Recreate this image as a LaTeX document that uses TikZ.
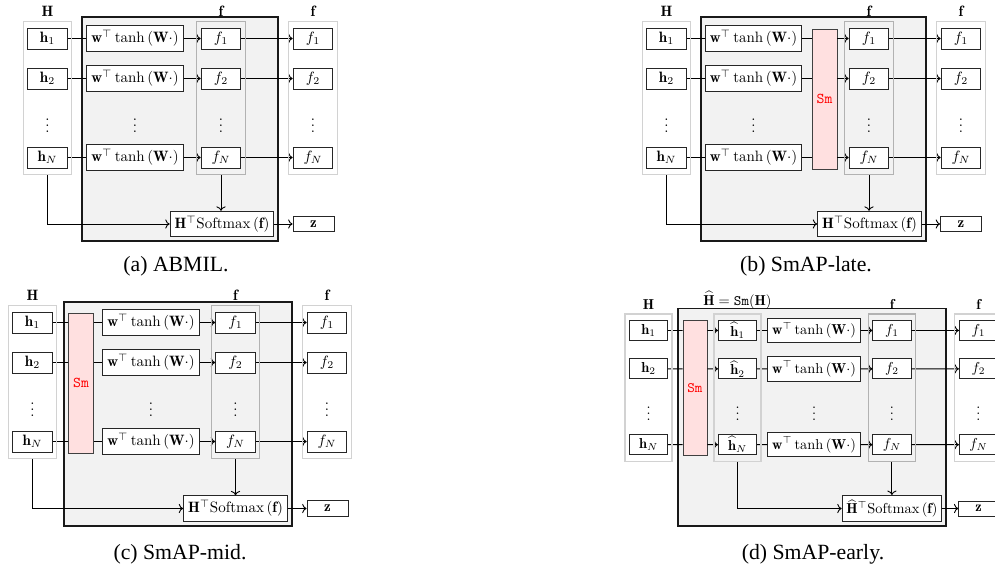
\documentclass[tikz,border=0pt]{standalone}
\usepackage{fontspec}
\usepackage{amsmath}
\usetikzlibrary{arrows.meta,fit}
\newfontfamily\capfont{Liberation Serif}

\tikzset{
  blk/.style={draw=black!85,fill=white,line width=0.6pt,inner sep=1pt,minimum height=14pt},
  hbox/.style={blk,minimum width=26.5pt},
  wbox/.style={blk,inner sep=3pt,minimum height=16.5pt},
  sbox/.style={blk,inner sep=3pt,minimum height=17pt},
  zbox/.style={blk,minimum width=27.3pt,minimum height=10.5pt},
  smbox/.style={draw=black!75,fill=red!12,line width=0.6pt,minimum width=16.7pt,
    minimum height=93.3pt,inner sep=0pt,text=red,font=\ttfamily},
  lgrp/.style={draw=gray!35,line width=0.8pt,inner xsep=2.7pt,inner ysep=4pt},
  dgrp/.style={draw=gray!60,line width=0.8pt,inner xsep=2.7pt,inner ysep=4pt},
  mainbg/.style={draw=black!90,fill=gray!10,line width=0.7pt},
  lbl/.style={anchor=base,inner sep=0pt},
  dots/.style={inner sep=0pt},
  subcap/.style={anchor=base,font=\capfont\fontsize{14.5}{17}\selectfont,inner sep=0pt}
}
\newcommand{\wtanh}{$\mathbf{w}^{\top}\tanh\left(\mathbf{W}\cdot\right)$}

\begin{document}
\begin{tikzpicture}[x=0.6667pt,y=-0.6667pt,line width=0.6pt,>=To]
\useasboundingbox (0,0) rectangle (995,571);
% ---- (a) ABMIL ----
\begin{scope}[shift={(0,0)}]
  \filldraw[mainbg] (82,17) rectangle (278,241);
  \foreach \i/\y in {1/38.5,2/78.5,N/157.5}{
    \node[hbox] (ah\i) at (47.5,\y) {$\mathbf{h}_{\i}$};
    \node[wbox] (aw\i) at (135,\y) {\wtanh};
    \node[hbox] (af\i) at (221,\y) {$f_{\i}$};
    \node[hbox] (ag\i) at (313,\y) {$f_{\i}$};
    \draw (ah\i) -- (aw\i);
    \draw[->] (aw\i) -- (af\i);
    \draw[->] (af\i) -- (ag\i);
  }
  \foreach \x/\n in {47.5/h,135/w,221/f,313/g}
    \node[dots] (ad\n) at (\x,121) {$\vdots$};
  \node[lgrp,fit=(ah1)(ahN)] (aH) {};
  \node[dgrp,fit=(af1)(afN)] (aF) {};
  \node[lgrp,fit=(ag1)(agN)] (aG) {};
  \node[lbl] (aHl) at (47.5,17) {$\mathbf{H}$};
  \node[lbl] (aFl) at (221,17) {$\mathbf{f}$};
  \node[lbl] (aGl) at (313,17) {$\mathbf{f}$};
  \node[sbox] (as) at (222,224) {$\mathbf{H}^{\top}\mathrm{Softmax}\left(\mathbf{f}\right)$};
  \node[zbox] (az) at (313.5,224) {$\mathbf{z}$};
  \draw[->] (aF.south) -- (aF.south |- as.north);
  \draw[->] (aH.south) |- (as.west);
  \draw[->] (as) -- (az);
\end{scope}
% ---- (b) SmAP-late ----
\begin{scope}[shift={(619,0)}]
  \filldraw[mainbg] (82,17) rectangle (307,241);
  \node[smbox] (bsm) at (205.5,99) {Sm};
  \foreach \i/\y in {1/38.5,2/78.5,N/157.5}{
    \node[hbox] (bh\i) at (47.5,\y) {$\mathbf{h}_{\i}$};
    \node[wbox] (bw\i) at (134.5,\y) {\wtanh};
    \node[hbox] (bf\i) at (250,\y) {$f_{\i}$};
    \node[hbox] (bg\i) at (342,\y) {$f_{\i}$};
    \draw (bh\i) -- (bw\i);
    \draw (bw\i) -- (bw\i -| bsm.west);
    \draw[->] (bsm.east |- bf\i) -- (bf\i);
    \draw[->] (bf\i) -- (bg\i);
  }
  \foreach \x/\n in {47.5/h,134.5/w,250/f,342/g}
    \node[dots] (bd\n) at (\x,121) {$\vdots$};
  \node[lgrp,fit=(bh1)(bhN)] (bH) {};
  \node[dgrp,fit=(bf1)(bfN)] (bF) {};
  \node[lgrp,fit=(bg1)(bgN)] (bG) {};
  \node[lbl] (bHl) at (47.5,17) {$\mathbf{H}$};
  \node[lbl] (bFl) at (250,17) {$\mathbf{f}$};
  \node[lbl] (bGl) at (342,17) {$\mathbf{f}$};
  \node[sbox] (bs) at (250.5,224) {$\mathbf{H}^{\top}\mathrm{Softmax}\left(\mathbf{f}\right)$};
  \node[zbox] (bz) at (342,224) {$\mathbf{z}$};
  \draw[->] (bF.south) -- (bF.south |- bs.north);
  \draw[->] (bH.south) |- (bs.west);
  \draw[->] (bs) -- (bz);
\end{scope}
% ---- (c) SmAP-mid ----
\begin{scope}[shift={(-15,284)}]
  \filldraw[mainbg] (79,18) rectangle (307,242);
  \node[smbox] (csm) at (96,99) {Sm};
  \foreach \i/\y in {1/38.5,2/78.5,N/157.5}{
    \node[hbox] (ch\i) at (47.5,\y) {$\mathbf{h}_{\i}$};
    \node[wbox] (cw\i) at (166,\y) {\wtanh};
    \node[hbox] (cf\i) at (250.5,\y) {$f_{\i}$};
    \node[hbox] (cg\i) at (342,\y) {$f_{\i}$};
    \draw (ch\i) -- (ch\i -| csm.west);
    \draw (csm.east |- cw\i) -- (cw\i);
    \draw[->] (cw\i) -- (cf\i);
    \draw[->] (cf\i) -- (cg\i);
  }
  \foreach \x/\n in {47.5/h,166/w,250.5/f,342/g}
    \node[dots] (cd\n) at (\x,121) {$\vdots$};
  \node[lgrp,fit=(ch1)(chN)] (cH) {};
  \node[dgrp,fit=(cf1)(cfN)] (cF) {};
  \node[lgrp,fit=(cg1)(cgN)] (cG) {};
  \node[lbl] (cHl) at (47.5,17) {$\mathbf{H}$};
  \node[lbl] (cFl) at (250.5,17) {$\mathbf{f}$};
  \node[lbl] (cGl) at (342,17) {$\mathbf{f}$};
  \node[sbox] (cs) at (250.5,224.5) {$\mathbf{H}^{\top}\mathrm{Softmax}\left(\mathbf{f}\right)$};
  \node[zbox] (cz) at (342.5,224.5) {$\mathbf{z}$};
  \draw[->] (cF.south) -- (cF.south |- cs.north);
  \draw[->] (cH.south) |- (cs.west);
  \draw[->] (cs) -- (cz);
\end{scope}
% ---- (d) SmAP-early, a bit smaller ----
\begin{scope}[shift={(602.9,293.5)},scale=0.96,transform shape]
  \filldraw[mainbg] (78.2,16.1) rectangle (357.4,242.2);
  \node[smbox] (dsm) at (95.9,98.4) {Sm};
  \foreach \i/\y in {1/38.5,2/78.5,N/157.5}{
    \node[hbox] (dh\i) at (47.5,\y) {$\mathbf{h}_{\i}$};
    \node[hbox] (dk\i) at (140.2,\y) {$\widehat{\mathbf{h}}_{\i}$};
    \node[wbox] (dw\i) at (219.9,\y) {\wtanh};
    \node[hbox] (df\i) at (301.1,\y) {$f_{\i}$};
    \node[hbox] (dg\i) at (391.2,\y) {$f_{\i}$};
    \draw (dh\i) -- (dh\i -| dsm.west);
    \draw[->] (dsm.east |- dk\i) -- (dk\i);
    \draw (dk\i) -- (dw\i);
    \draw[->] (dw\i) -- (df\i);
    \draw[->] (df\i) -- (dg\i);
  }
  \foreach \x/\n in {47.5/h,140.2/k,219.9/w,301.1/f,391.2/g}
    \node[dots] (dd\n) at (\x,121) {$\vdots$};
  \node[lgrp,fit=(dh1)(dhN)] (dH) {};
  \node[lgrp,fit=(dk1)(dkN)] (dK) {};
  \node[dgrp,fit=(df1)(dfN)] (dF) {};
  \node[lgrp,fit=(dg1)(dgN)] (dG) {};
  \node[lbl] (dHl) at (47.5,17) {$\mathbf{H}$};
  \node[lbl] (dKl) at (140.2,12) {$\widehat{\mathbf{H}}=\texttt{Sm}(\mathbf{H})$};
  \node[lbl] (dFl) at (301.1,17) {$\mathbf{f}$};
  \node[lbl] (dGl) at (391.2,17) {$\mathbf{f}$};
  \node[sbox] (ds) at (301.1,224) {$\widehat{\mathbf{H}}^{\top}\mathrm{Softmax}\left(\mathbf{f}\right)$};
  \node[zbox] (dz) at (391.2,224) {$\mathbf{z}$};
  \draw[->] (dF.south) -- (dF.south |- ds.north);
  \draw[->] (dK.south) |- (ds.west);
  \draw[->] (ds) -- (dz);
\end{scope}
% ---- captions ----
\node[subcap] (capa) at (176,272) {(a) ABMIL.};
\node[subcap] (capb) at (806,272) {(b) SmAP-late.};
\node[subcap] (capc) at (180,560) {(c) SmAP-mid.};
\node[subcap] (capd) at (813,560) {(d) SmAP-early.};
\end{tikzpicture}
\end{document}
